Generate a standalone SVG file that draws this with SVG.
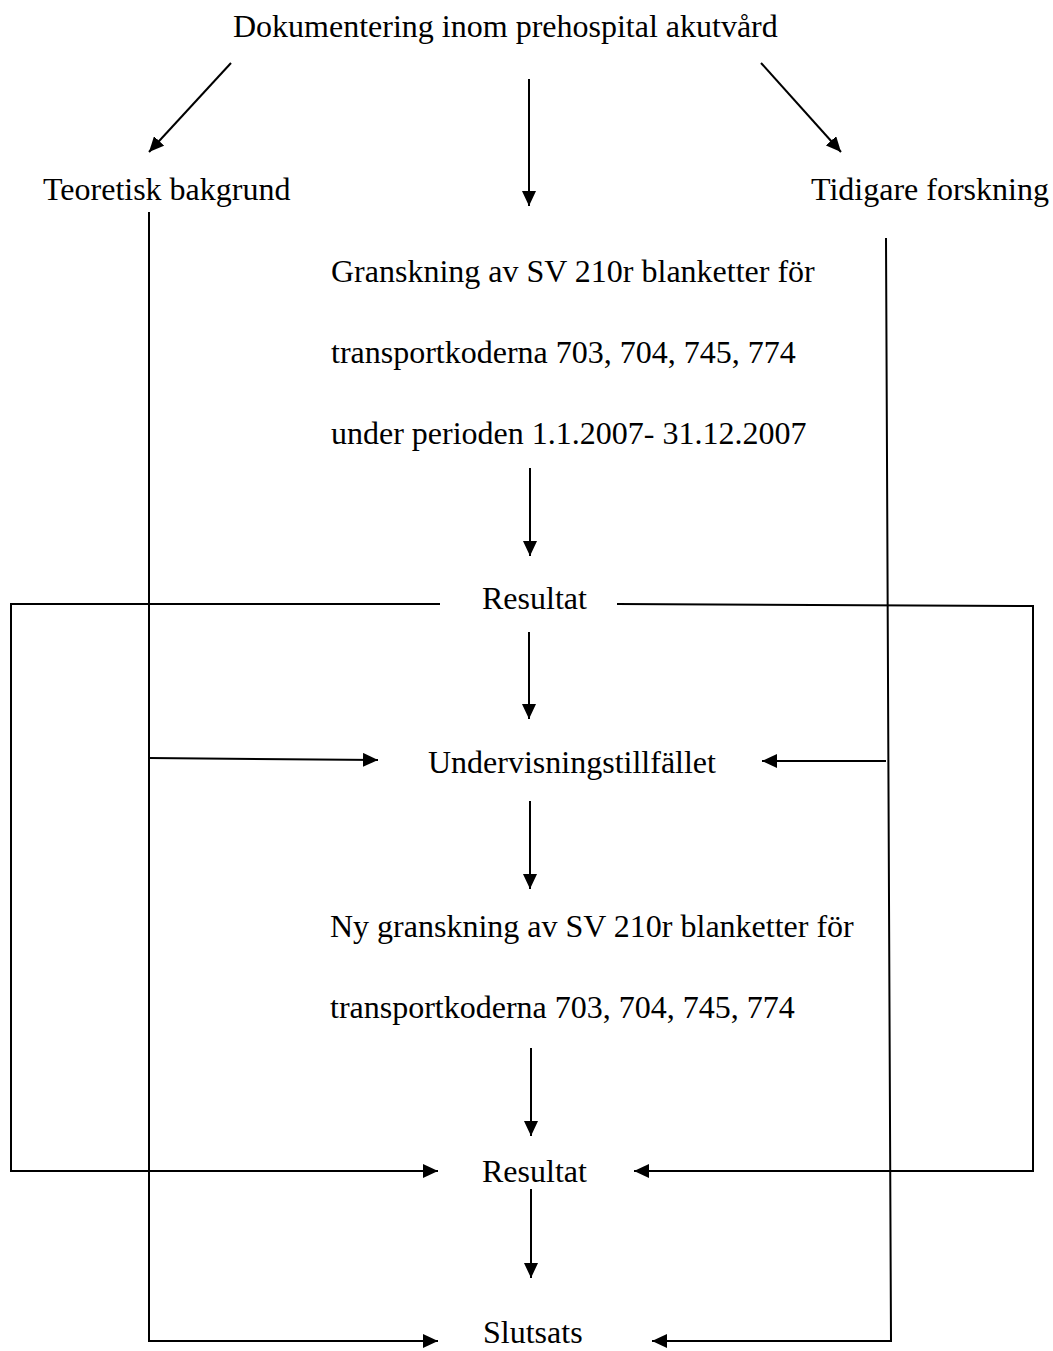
<svg xmlns="http://www.w3.org/2000/svg" width="1053" height="1351" viewBox="0 0 1053 1351">
<style>
  .t { font-family: "Liberation Serif", "Times New Roman", serif; font-size: 32px; fill: #000; }
  .c { fill: none; stroke: #000; stroke-width: 2; }
  .a { marker-end: url(#ah); }
</style>
<defs>
  <marker id="ah" viewBox="0 0 15 14" refX="15" refY="7" markerWidth="15" markerHeight="14" markerUnits="userSpaceOnUse" orient="auto">
    <path d="M0,0 L15,7 L0,14 z" fill="#000"/>
  </marker>
</defs>
<rect width="1053" height="1351" fill="#fff"/>
<g id="connectors">
  <line class="c a" x1="231" y1="63" x2="149" y2="152"/>
  <line class="c a" x1="529" y1="79" x2="529" y2="206"/>
  <line class="c a" x1="761" y1="63" x2="841" y2="152"/>
  <line class="c a" x1="530" y1="468" x2="530" y2="556"/>
  <line class="c a" x1="529" y1="632" x2="529" y2="719"/>
  <line class="c a" x1="530" y1="801" x2="530" y2="889"/>
  <line class="c a" x1="531" y1="1048" x2="531" y2="1136"/>
  <line class="c a" x1="531" y1="1189" x2="531" y2="1278"/>
  <polyline class="c a" points="440,604 11,604 11,1171 438,1171"/>
  <polyline class="c a" points="617,604 1033,606 1033,1171 634,1171"/>
  <polyline class="c a" points="149,212 149,1341 438,1341"/>
  <line class="c a" x1="149" y1="758" x2="378" y2="760"/>
  <polyline class="c a" points="886,238 891,1341 652,1341"/>
  <line class="c a" x1="886" y1="761" x2="762" y2="761"/>
</g>
<g id="n-title"><text class="t" x="233" y="37">Dokumentering inom prehospital akutvård</text></g>
<g id="n-teori"><text class="t" x="43" y="200">Teoretisk bakgrund</text></g>
<g id="n-tidigare"><text class="t" x="811" y="200">Tidigare forskning</text></g>
<g id="n-granskning">
  <text class="t" x="331" y="282">Granskning av SV 210r blanketter för</text>
  <text class="t" x="331" y="363">transportkoderna 703, 704, 745, 774</text>
  <text class="t" x="331" y="444">under perioden 1.1.2007- 31.12.2007</text>
</g>
<g id="n-resultat1"><text class="t" x="482" y="609">Resultat</text></g>
<g id="n-undervisning"><text class="t" x="428" y="773">Undervisningstillfället</text></g>
<g id="n-nygranskning">
  <text class="t" x="330" y="937">Ny granskning av SV 210r blanketter för</text>
  <text class="t" x="330" y="1018">transportkoderna 703, 704, 745, 774</text>
</g>
<g id="n-resultat2"><text class="t" x="482" y="1182">Resultat</text></g>
<g id="n-slutsats"><text class="t" x="483" y="1343">Slutsats</text></g>
</svg>
